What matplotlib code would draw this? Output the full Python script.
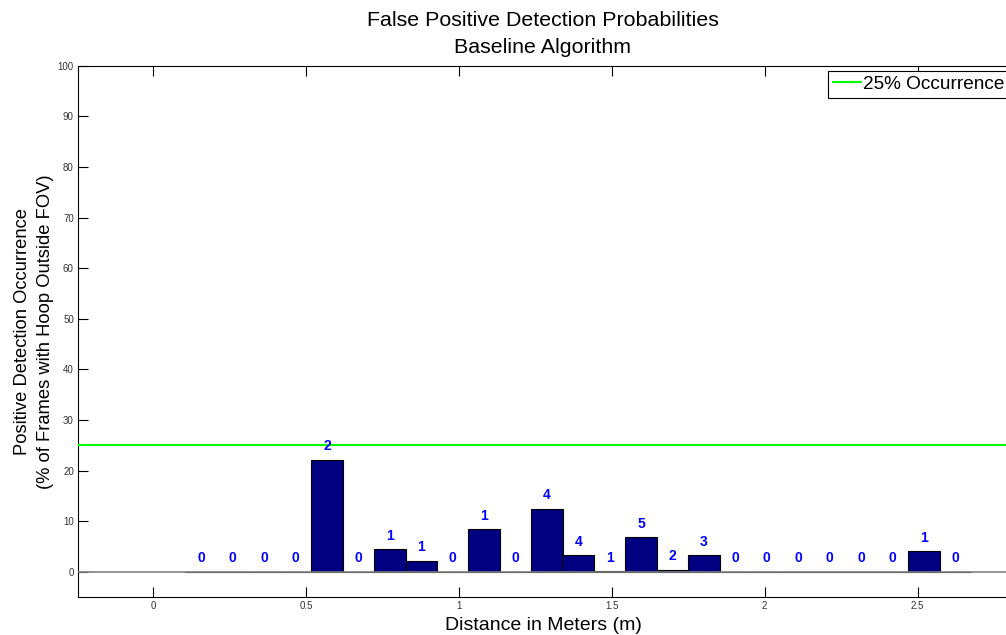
import matplotlib
matplotlib.use("Agg")
import matplotlib.pyplot as plt

# Distance bins (m), detection occurrence (%) and number of detections per bin
distances = [0.157, 0.260, 0.363, 0.465, 0.568, 0.671, 0.774, 0.877, 0.979,
             1.082, 1.185, 1.288, 1.390, 1.493, 1.596, 1.699, 1.801, 1.904,
             2.007, 2.110, 2.212, 2.315, 2.418, 2.521, 2.623]
occurrence = [0, 0, 0, 0, 22.2, 0, 4.46, 2.16, 0,
              8.43, 0, 12.47, 3.27, 0.15, 6.84, 0.44, 3.27, 0,
              0, 0, 0, 0, 0, 4.07, 0]
counts = [0, 0, 0, 0, 2, 0, 1, 1, 0,
          1, 0, 4, 4, 1, 5, 2, 3, 0,
          0, 0, 0, 0, 0, 1, 0]
threshold = 25
x_ticks = [0, 0.5, 1, 1.5, 2, 2.5]
x_tick_labels = ["0", "0.5", "1", "1.5", "2", "2.5"]
y_ticks = [0, 10, 20, 30, 40, 50, 60, 70, 80, 90, 100]

plt.rcParams["font.family"] = ["Liberation Sans", "DejaVu Sans"]

W, H = 1006, 635
fig = plt.figure(figsize=(W / 100, H / 100), dpi=100)
left, right, top, bottom = 78, 1008, 65.7, 597.3
ax = fig.add_axes([left / W, 1 - bottom / H, (right - left) / W, (bottom - top) / H])

bin_width = distances[1] - distances[0]
ax.bar(distances, occurrence, width=bin_width, color="#000080",
       edgecolor="black", linewidth=0.8, zorder=3)
# bar baseline drawn over the bar bottoms
ax.axhline(0, color="#808080", linewidth=1.2, zorder=3.5)
ax.axhline(threshold, color="#00ff00", linewidth=1.5, zorder=4,
           label="25% Occurrence")

for d, h, c in zip(distances, occurrence, counts):
    ax.text(d, h + 2.7, str(c), color="#0000ff", fontsize=10,
            fontweight="bold", ha="center", va="center", zorder=5)

ax.set_xlim(-0.246, 2.796)
ax.set_ylim(-5, 100)
ax.set_xticks(x_ticks)
ax.set_xticklabels(x_tick_labels)
ax.set_yticks(y_ticks)
ax.tick_params(direction="in", length=7, width=0.8, labelsize=7,
               labelcolor="#333333", top=True, right=False, pad=3)
ax.tick_params(axis="x", pad=2.5)
for side in ["left", "bottom", "top", "right"]:
    ax.spines[side].set_linewidth(0.8)

ax.set_title("False Positive Detection Probabilities\nBaseline Algorithm",
             fontsize=15.4, pad=9.5, linespacing=1.5)
ax.set_xlabel("Distance in Meters (m)", fontsize=14, labelpad=4.5)
ax.set_ylabel("Positive Detection Occurrence\n(% of Frames with Hoop Outside FOV)",
              fontsize=13.2, labelpad=3, linespacing=1.42)

# legend box anchored at its top-left corner, running past the right edge
leg = ax.legend(loc="upper left", bbox_to_anchor=(827.7 / W, 1 - 70.7 / H),
                bbox_transform=fig.transFigure, borderaxespad=0,
                fontsize=13.7, fancybox=False, framealpha=1, edgecolor="black",
                handlelength=1.5, handletextpad=0.1, borderpad=0.26)
leg.get_frame().set_linewidth(0.8)

fig.savefig("out.png", dpi=100)
